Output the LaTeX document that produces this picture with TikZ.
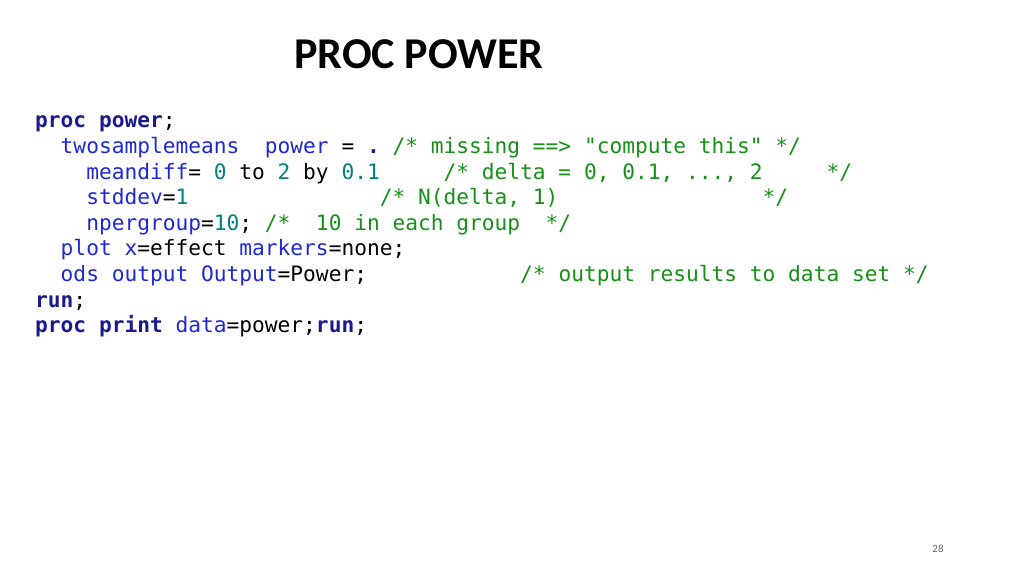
\documentclass[tikz,border=0pt]{standalone}
\usepackage{fontspec}
\setmainfont{Carlito}
\setmonofont{DejaVu Sans Mono}
\usepackage{xcolor}
\usetikzlibrary{positioning}
\definecolor{sasnavy}{HTML}{1A1A8C}
\definecolor{sasblue}{HTML}{1E28D2}
\definecolor{sasteal}{HTML}{008080}
\definecolor{sasgreen}{HTML}{169016}
\newcommand{\kwd}[1]{\textcolor{sasnavy}{\textbf{#1}}}
\newcommand{\opt}[1]{\textcolor{sasblue}{#1}}
\newcommand{\num}[1]{\textcolor{sasteal}{#1}}
\newcommand{\cmt}[1]{\textcolor{sasgreen}{#1}}
\tikzset{codeline/.style={anchor=base west, inner sep=0pt, font=\fontsize{21.2}{24}\ttfamily}}

\begin{document}
\begin{tikzpicture}[x=1pt,y=1pt]
    \useasboundingbox (0,0) rectangle (1024,576);
    \node[font=\fontsize{44}{48}\selectfont\bfseries] (title) at (419,522) {PROC POWER};
    \node[codeline] (l1) at (35,448) {\kwd{proc power};};
    \node[codeline] (l2) at (35,422.4) {\ \ \opt{twosamplemeans}\ \ \opt{power} = \kwd{.} \cmt{/* missing ==> "compute this" */}};
    \node[codeline] (l3) at (35,396.8) {\ \ \ \ \opt{meandiff}= \num{0} to \num{2} by \num{0.1}\ \ \ \ \ \cmt{/* delta = 0, 0.1, ..., 2\ \ \ \ \ */}};
    \node[codeline] (l4) at (35,371.2) {\ \ \ \ \opt{stddev}=\num{1}\ \ \ \ \ \ \ \ \ \ \ \ \ \ \ \cmt{/* N(delta, 1)\ \ \ \ \ \ \ \ \ \ \ \ \ \ \ \ */}};
    \node[codeline] (l5) at (35,345.6) {\ \ \ \ \opt{npergroup}=\num{10}; \cmt{/*\ \ 10 in each group\ \ */}};
    \node[codeline] (l6) at (35,320) {\ \ \opt{plot x}=effect \opt{markers}=none;};
    \node[codeline] (l7) at (35,294.4) {\ \ \opt{ods output Output}=Power;\ \ \ \ \ \ \ \ \ \ \ \ \cmt{/* output results to data set */}};
    \node[codeline] (l8) at (35,268.8) {\kwd{run};};
    \node[codeline] (l9) at (35,243.2) {\kwd{proc print} \opt{data}=power;\kwd{run};};
    \node[font=\fontsize{11}{12}\selectfont, text=black!60] (page) at (938,27) {28};
\end{tikzpicture}
\end{document}
